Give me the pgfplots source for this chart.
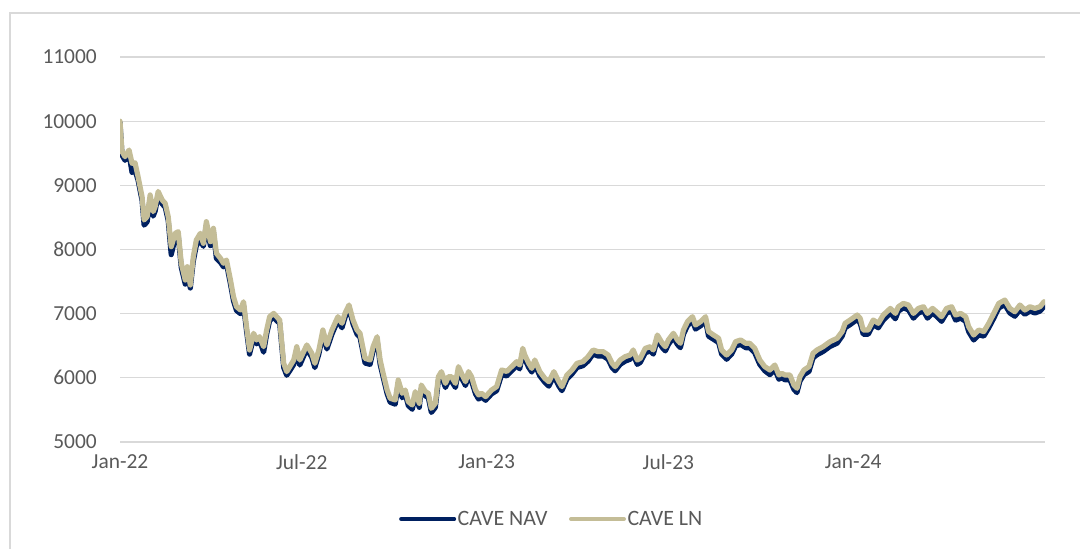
\documentclass[border=0pt]{standalone}
\usepackage{pgfplots}
\pgfplotsset{compat=1.18}
\usepackage{pgfplotstable}
\usepackage{fontspec}
\setmainfont{Carlito}
\definecolor{nav}{HTML}{002060}
\definecolor{ln}{HTML}{C4BD97}
\definecolor{txt}{HTML}{595959}
\definecolor{gridc}{HTML}{D9D9D9}

\pgfplotstableread{
day LN NAV
0 10000 9980
2 9524 9470
5 9446 9390
9 9550 9490
12 9343 9200
15 9350 9230
18 9134 9080
22 8822 8760
24 8460 8380
27 8512 8430
30 8850 8790
33 8590 8520
35 8670 8600
38 8905 8850
42 8771 8710
45 8720 8660
48 8512 8450
51 8044 7920
55 8252 8180
58 8278 8210
61 7786 7720
65 7524 7460
67 7732 7650
70 7447 7400
73 7889 7820
76 8148 8060
80 8252 8150
83 8096 8050
86 8434 8380
90 8122 8060
93 8330 8270
96 7941 7860
100 7863 7800
103 7786 7730
106 7836 7780
110 7524 7460
113 7264 7200
116 7108 7050
120 7057 7000
123 7186 7130
126 6797 6730
129 6434 6370
133 6694 6630
136 6590 6530
139 6641 6580
143 6485 6400
146 6745 6680
149 6953 6890
153 7004 6950
156 6953 6890
159 6901 6850
163 6226 6160
166 6096 6040
169 6174 6110
173 6278 6210
176 6485 6420
179 6278 6200
186 6512 6450
191 6382 6320
194 6226 6160
198 6434 6370
202 6745 6680
206 6512 6450
211 6745 6680
214 6850 6790
217 6953 6890
221 6850 6780
224 7004 6940
228 7135 7080
232 6901 6840
236 6745 6680
239 6694 6630
244 6304 6230
249 6278 6210
252 6485 6420
256 6641 6580
259 6278 6210
262 6070 6010
266 5810 5750
269 5681 5620
274 5655 5590
277 5966 5900
281 5759 5690
284 5810 5750
287 5629 5570
291 5577 5510
294 5785 5720
298 5603 5540
300 5888 5830
304 5785 5720
307 5759 5690
310 5525 5460
314 5603 5540
317 6018 5960
320 6096 6030
324 5914 5850
327 6018 5950
330 6018 5950
334 5914 5850
337 6174 6110
340 6070 6000
344 5940 5880
347 6096 6030
350 6018 5950
354 5810 5750
357 5733 5670
360 5759 5700
364 5707 5650
367 5759 5700
370 5810 5750
375 5862 5800
380 6122 6050
385 6100 6030
390 6174 6110
395 6252 6190
398 6200 6140
401 6460 6390
403 6356 6290
407 6226 6160
410 6148 6090
413 6278 6210
418 6096 6030
423 5992 5930
427 5940 5870
432 6096 6030
437 5940 5870
440 5862 5800
445 6044 5980
450 6122 6060
455 6226 6160
461 6252 6190
466 6330 6260
471 6434 6370
476 6408 6340
481 6408 6340
486 6356 6290
490 6226 6160
493 6174 6110
498 6278 6210
503 6330 6260
508 6356 6290
511 6434 6370
515 6278 6210
518 6304 6240
523 6460 6390
528 6485 6420
531 6434 6370
535 6667 6600
540 6538 6470
543 6485 6420
546 6590 6520
551 6694 6630
555 6590 6520
558 6538 6470
561 6745 6680
565 6875 6810
570 6953 6890
573 6823 6760
578 6875 6810
583 6953 6890
586 6720 6650
591 6667 6600
596 6616 6550
599 6434 6370
604 6356 6290
609 6434 6370
613 6564 6500
618 6590 6520
623 6538 6470
627 6538 6470
632 6460 6390
637 6278 6210
642 6174 6110
647 6122 6050
652 6200 6130
656 6044 5980
659 6070 6000
662 6044 5970
667 6044 5970
671 5888 5820
674 5837 5770
677 6018 5950
681 6122 6050
686 6174 6100
690 6382 6310
694 6434 6360
700 6485 6410
707 6564 6490
714 6616 6540
719 6720 6650
722 6850 6780
727 6901 6830
734 6979 6910
737 6927 6850
740 6745 6680
745 6745 6680
750 6901 6830
755 6850 6780
760 6979 6900
767 7082 7010
772 7004 6920
775 7108 7040
780 7160 7090
785 7135 7060
790 7004 6930
795 7082 7010
800 7108 7040
804 7004 6930
809 7082 7010
813 7030 6960
818 6953 6880
823 7082 7010
828 7108 7040
832 6979 6900
837 7004 6930
842 6953 6880
845 6797 6720
850 6667 6590
855 6745 6670
860 6720 6650
865 6850 6780
870 7004 6930
875 7160 7090
881 7212 7140
886 7082 7010
891 7030 6960
896 7135 7060
901 7057 6990
906 7108 7040
911 7082 7010
916 7108 7040
920 7186 7110
}\cavedata

\begin{document}
\begin{tikzpicture}[x=1bp,y=1bp]
\useasboundingbox (0,0) rectangle (1080,549);
\draw[gridc, line width=1.5bp] (10,0) -- (10,536) -- (1080,536);
\begin{axis}[
  at={(120bp,107bp)}, anchor=south west,
  scale only axis, width=925bp, height=385bp,
  xmin=0, xmax=921, ymin=5000, ymax=11000,
  axis line style={draw=none},
  ytick={5000,6000,...,11000},
  scaled y ticks=false,
  yticklabel={\pgfmathprintnumber[fixed,1000 sep={},assume math mode=true]{\tick}},
  ymajorgrids, grid style={gridc, line width=1.3bp},
  xtick={0,181,365,546,730},
  xticklabels={Jan-22,Jul-22,Jan-23,Jul-23,Jan-24},
  major tick length=0pt, tick style={draw=none},
  ticklabel style={font=\fontsize{21.5}{24}\selectfont, text=txt, inner sep=0pt},
  yticklabel style={anchor=east, xshift=-23bp},
  xticklabel style={anchor=north, yshift=-12bp},
  legend style={at={(0.4665,-0.2)}, anchor=center, draw=none, fill=none,
    font=\fontsize{22}{24}\selectfont, text=txt, legend columns=2,
    /tikz/every even column/.append style={column sep=20bp},
    inner sep=0pt, nodes={inner sep=1.5bp}},
  legend cell align=left,
  legend image code/.code={\draw[#1, line width=4bp, line cap=round] (0bp,0bp) -- (53bp,0bp);},
]
\addplot[nav, line width=5.2bp, line join=round, line cap=round] table[x=day, y=NAV] {\cavedata};
\addlegendentry{CAVE NAV}
\addplot[ln, line width=5.2bp, line join=round, line cap=round] table[x=day, y=LN] {\cavedata};
\addlegendentry{CAVE LN}
\end{axis}
\end{tikzpicture}
\end{document}
